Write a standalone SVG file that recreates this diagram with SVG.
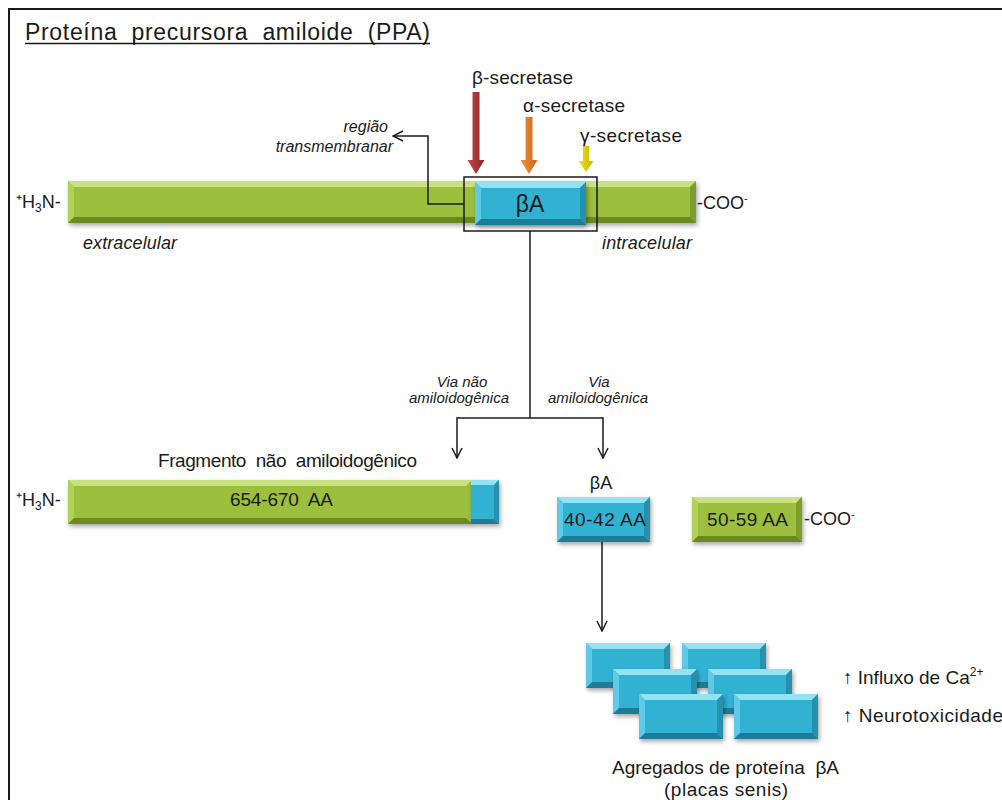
<svg xmlns="http://www.w3.org/2000/svg" width="1002" height="800" viewBox="0 0 1002 800">
<defs>
<style>
text{font-family:"Liberation Sans",Arial,sans-serif;fill:#1a1a1a;font-size:19px}
.it{font-style:italic}
.sm{font-size:15px;font-style:italic}
.gm{fill:#9cbf3c}.gt{fill:#c8e282}.gl{fill:#b1d158}.gr{fill:#7d9d2c}.gb{fill:#6b8a22}
.bm{fill:#33b2d2}.bt{fill:#93e3f4}.bl{fill:#5ecae5}.br{fill:#2591ae}.bb{fill:#1d7d98}
.sh{filter:url(#ds)}
.ln{fill:none;stroke:#1a1a1a;stroke-width:1.5}
.arr{marker-end:url(#oa)}
</style>
<filter id="ds" x="-10%" y="-20%" width="130%" height="150%">
<feDropShadow dx="1.5" dy="2.5" stdDeviation="2" flood-color="#000" flood-opacity="0.35"/>
</filter>
<marker id="oa" viewBox="0 0 12 12" refX="11" refY="6" markerWidth="12" markerHeight="12" markerUnits="userSpaceOnUse" orient="auto">
<path d="M1,1 L11,6 L1,11" fill="none" stroke="#1a1a1a" stroke-width="1.5"/>
</marker>
<linearGradient id="gred" x1="0" x2="1"><stop offset="0" stop-color="#c24a4a"/><stop offset="1" stop-color="#8e2222"/></linearGradient>
<linearGradient id="gor" x1="0" x2="1"><stop offset="0" stop-color="#f0963a"/><stop offset="1" stop-color="#c9631a"/></linearGradient>
<linearGradient id="gye" x1="0" x2="1"><stop offset="0" stop-color="#f3e21a"/><stop offset="1" stop-color="#c9b400"/></linearGradient>
</defs>
<rect x="9" y="9" width="1010" height="800" fill="#fff" stroke="#1a1a1a" stroke-width="2"/>

<g id="title">
<text x="25" y="40" style="font-size:23px" xml:space="preserve" textLength="405" lengthAdjust="spacing">Proteína  precursora  amiloide  (PPA)</text>
<line x1="25" y1="43.5" x2="430" y2="43.5" stroke="#1a1a1a" stroke-width="1.5"/>
</g>

<g id="app-bar">
<g class="sh">
<rect x="68" y="181" width="628" height="42" class="gm"/>
</g>
<polygon points="68,181 696,181 690,187 74,187" class="gt"/>
<polygon points="68,181 74,187 74,217 68,223" class="gl"/>
<polygon points="696,181 696,223 690,217 690,187" class="gr"/>
<polygon points="68,223 74,217 690,217 696,223" class="gb"/>
<text x="16" y="208" style="font-size:18px">⁺H<tspan font-size="12" dy="4">3</tspan><tspan dy="-4">N-</tspan></text>
<text x="697" y="209" style="font-size:18px">-COO<tspan font-size="11" dy="-7">-</tspan></text>
<text x="83" y="249" class="it" style="font-size:18px" textLength="94" lengthAdjust="spacing">extracelular</text>
<text x="602" y="249" class="it" style="font-size:18px" textLength="90" lengthAdjust="spacing">intracelular</text>
</g>

<g id="ba-domain">
<g class="sh"><rect x="475" y="182" width="111" height="43" class="bm"/></g>
<polygon points="475,182 586,182 580,188 481,188" class="bt"/>
<polygon points="475,182 481,188 481,219 475,225" class="bl"/>
<polygon points="586,182 586,225 580,219 580,188" class="br"/>
<polygon points="475,225 481,219 580,219 586,225" class="bb"/>
<text x="530" y="212" style="font-size:23px" text-anchor="middle">βA</text>
<rect x="464" y="177" width="133" height="54" fill="none" stroke="#1a1a1a" stroke-width="1.5"/>
</g>

<g id="secretases">
<polygon points="472.5,92 479.5,92 479.5,160 484.5,160 476,174 467.5,160 472.5,160" fill="url(#gred)"/>
<polygon points="525.5,117 532.5,117 532.5,160 537.5,160 529,174 520.5,160 525.5,160" fill="url(#gor)"/>
<polygon points="583,146 589,146 589,161 593.5,161 586,172 578.5,161 583,161" fill="url(#gye)"/>
<text x="472" y="84" textLength="101" lengthAdjust="spacing">β-secretase</text>
<text x="523" y="112" textLength="102" lengthAdjust="spacing">α-secretase</text>
<text x="580" y="142" textLength="102" lengthAdjust="spacing">γ-secretase</text>
</g>

<g id="transmembrane-label">
<text x="388" y="132" class="it" text-anchor="end" style="font-size:16px">região</text>
<text x="393" y="152" class="it" text-anchor="end" style="font-size:16px">transmembranar</text>
</g>

<g id="connectors">
<polyline points="464,204 428,204 428,136 393,136" class="ln arr"/>
<polyline points="530,231 530,418" class="ln"/>
<polyline points="457,418 603,418" class="ln"/>
<polyline points="457,417.25 457,458" class="ln arr"/>
<polyline points="603,417.25 603,458" class="ln arr"/>
<polyline points="602,542 602,631" class="ln arr"/>
</g>

<g id="pathway-labels">
<text x="462" y="387" class="sm" text-anchor="middle">Via não</text>
<text x="459" y="403" class="sm" text-anchor="middle">amiloidogênica</text>
<text x="599" y="387" class="sm" text-anchor="middle">Via</text>
<text x="598" y="403" class="sm" text-anchor="middle">amiloidogênica</text>
</g>

<g id="non-amyloid-fragment">
<text x="158" y="467" xml:space="preserve" textLength="259" lengthAdjust="spacing">Fragmento  não  amiloidogênico</text>
<g class="sh"><rect x="68" y="480" width="404" height="44" class="gm"/></g>
<polygon points="68,480 472,480 466,486 74,486" class="gt"/>
<polygon points="68,480 74,486 74,518 68,524" class="gl"/>
<polygon points="68,524 74,518 466,518 472,524" class="gb"/>
<g class="sh"><rect x="471" y="480" width="28" height="44" class="bm"/></g>
<polygon points="471,480 499,480 494,485 471,485" class="bt"/>
<polygon points="499,480 499,524 494,519 494,485" class="br"/>
<polygon points="471,524 471,519 494,519 499,524" class="bb"/>
<text x="230" y="506" xml:space="preserve" textLength="103" lengthAdjust="spacing">654-670  AA</text>
<text x="16" y="506" style="font-size:18px">⁺H<tspan font-size="12" dy="4">3</tspan><tspan dy="-4">N-</tspan></text>
</g>

<g id="ba-fragment">
<text x="601" y="489" text-anchor="middle" style="font-size:18px">βA</text>
<g class="sh"><rect x="557" y="497" width="93" height="45" class="bm"/></g>
<polygon points="557,497 650,497 644,503 563,503" class="bt"/>
<polygon points="557,497 563,503 563,536 557,542" class="bl"/>
<polygon points="650,497 650,542 644,536 644,503" class="br"/>
<polygon points="557,542 563,536 644,536 650,542" class="bb"/>
<text x="564" y="526" textLength="82" lengthAdjust="spacing">40-42 AA</text>
</g>

<g id="c-fragment">
<g class="sh"><rect x="692" y="497" width="110" height="45" class="gm"/></g>
<polygon points="692,497 802,497 796,503 698,503" class="gt"/>
<polygon points="692,497 698,503 698,536 692,542" class="gl"/>
<polygon points="802,497 802,542 796,536 796,503" class="gr"/>
<polygon points="692,542 698,536 796,536 802,542" class="gb"/>
<text x="707" y="526" textLength="81" lengthAdjust="spacing">50-59 AA</text>
<text x="804" y="525" style="font-size:18px">-COO<tspan font-size="11" dy="-7">-</tspan></text>
</g>

<g id="aggregates">
<g class="sh"><rect x="586" y="643" width="84" height="45" class="bm"/></g>
<polygon points="586,643 670,643 664,649 592,649" class="bt"/>
<polygon points="586,643 592,649 592,682 586,688" class="bl"/>
<polygon points="670,643 670,688 664,682 664,649" class="br"/>
<polygon points="586,688 592,682 664,682 670,688" class="bb"/>

<g class="sh"><rect x="682" y="643" width="84" height="45" class="bm"/></g>
<polygon points="682,643 766,643 760,649 688,649" class="bt"/>
<polygon points="682,643 688,649 688,682 682,688" class="bl"/>
<polygon points="766,643 766,688 760,682 760,649" class="br"/>
<polygon points="682,688 688,682 760,682 766,688" class="bb"/>

<g class="sh"><rect x="613" y="669" width="84" height="45" class="bm"/></g>
<polygon points="613,669 697,669 691,675 619,675" class="bt"/>
<polygon points="613,669 619,675 619,708 613,714" class="bl"/>
<polygon points="697,669 697,714 691,708 691,675" class="br"/>
<polygon points="613,714 619,708 691,708 697,714" class="bb"/>

<g class="sh"><rect x="708" y="669" width="84" height="45" class="bm"/></g>
<polygon points="708,669 792,669 786,675 714,675" class="bt"/>
<polygon points="708,669 714,675 714,708 708,714" class="bl"/>
<polygon points="792,669 792,714 786,708 786,675" class="br"/>
<polygon points="708,714 714,708 786,708 792,714" class="bb"/>

<g class="sh"><rect x="639" y="694" width="84" height="45" class="bm"/></g>
<polygon points="639,694 723,694 717,700 645,700" class="bt"/>
<polygon points="639,694 645,700 645,733 639,739" class="bl"/>
<polygon points="723,694 723,739 717,733 717,700" class="br"/>
<polygon points="639,739 645,733 717,733 723,739" class="bb"/>

<g class="sh"><rect x="734" y="694" width="84" height="45" class="bm"/></g>
<polygon points="734,694 818,694 812,700 740,700" class="bt"/>
<polygon points="734,694 740,700 740,733 734,739" class="bl"/>
<polygon points="818,694 818,739 812,733 812,700" class="br"/>
<polygon points="734,739 740,733 812,733 818,739" class="bb"/>

<text x="612" y="774" xml:space="preserve" textLength="227" lengthAdjust="spacing">Agregados de proteína  βA</text>
<text x="664" y="796" textLength="124" lengthAdjust="spacing">(placas senis)</text>
</g>

<g id="effects">
<text x="843" y="684">↑ Influxo  de  Ca<tspan font-size="12" dy="-8">2+</tspan></text>
<text x="843" y="722" textLength="160" lengthAdjust="spacing">↑ Neurotoxicidade</text>
</g>
</svg>
